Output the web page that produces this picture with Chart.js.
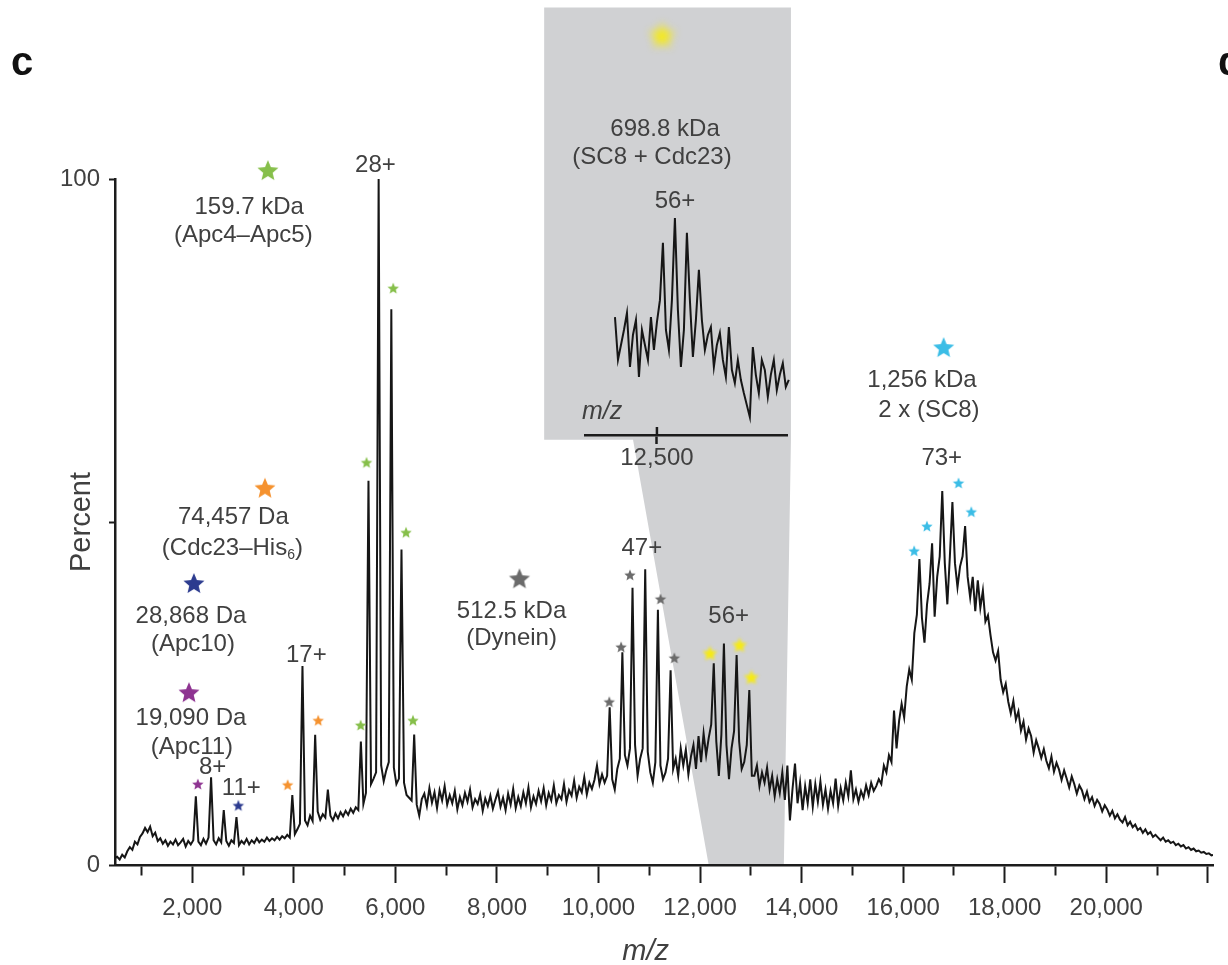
<!DOCTYPE html>
<html>
<head>
<meta charset="utf-8">
<title>Native MS of APC/C subcomplexes</title>
<script src="https://cdn.jsdelivr.net/npm/chart.js@4.4.1/dist/chart.umd.min.js"></script>
<style>
  html, body { margin: 0; padding: 0; background: #fff; }
  #wrap { position: relative; width: 1228px; height: 965px; overflow: hidden; background: #fff; }
  #main { position: absolute; left: 0; top: 0; }
  #inset { position: absolute; left: 550px; top: 0; }
</style>
</head>
<body>
<div id="wrap">
  <canvas id="main" width="1228" height="965"></canvas>
  <canvas id="inset" width="260" height="480"></canvas>
</div>
<script>
// ---- spectrum: relative intensity (%) sampled every 50 m/z from 470 ----
var mzStart = 470;
var mzStep = 50;
var spectrumPct = [
  1.0, 1.2, 0.8, 1.5, 1.1, 2.0, 2.6, 2.2, 3.4, 3.0,
  4.1, 4.6, 5.4, 4.8, 5.6, 4.2, 4.7, 3.5, 3.9, 3.1,
  3.6, 2.8, 3.4, 3.0, 3.7, 2.9, 3.3, 3.8, 2.7, 3.5,
  3.0, 3.6, 10.0, 3.4, 2.9, 3.8, 3.1, 4.0, 12.8, 3.6,
  3.0, 3.9, 3.3, 8.0, 3.5, 2.8, 3.6, 3.2, 7.0, 2.9,
  3.5, 3.1, 3.8, 3.0, 3.6, 3.2, 3.9, 3.3, 3.7, 3.4,
  4.0, 3.5, 3.9, 3.6, 4.1, 3.7, 4.2, 3.9, 4.4, 4.0,
  10.2, 4.5, 5.2, 6.0, 29.0, 6.5, 5.8, 7.2, 6.4, 19.0,
  7.8, 6.6, 7.4, 6.9, 11.0, 7.2, 6.5, 7.5, 6.8, 7.7,
  7.1, 7.9, 7.3, 8.2, 7.6, 8.4, 8.0, 18.0, 8.9, 10.5,
  56.0, 11.8, 12.6, 13.5, 100, 14.5, 12.2, 13.8, 15.0, 81.0,
  14.2, 11.8, 12.6, 46.0, 12.0, 10.2, 9.8, 9.4, 19.0, 8.8,
  7.2, 9.6, 10.4, 8.6, 11.2, 9.1, 10.6, 8.3, 10.9, 9.4,
  11.5, 8.8, 10.2, 9.0, 10.8, 8.1, 9.9, 8.7, 10.5, 9.2,
  11.0, 8.4, 9.6, 8.9, 10.3, 7.9, 9.7, 8.6, 10.1, 8.2,
  9.5, 10.7, 8.5, 9.8, 8.0, 10.4, 8.8, 11.1, 8.3, 9.9,
  8.6, 10.6, 9.0, 11.3, 8.4, 10.0, 8.9, 10.8, 9.3, 11.2,
  8.7, 10.5, 9.4, 11.6, 9.0, 10.2, 9.6, 11.8, 9.2, 10.9,
  10.1, 12.3, 9.8, 11.4, 10.6, 12.8, 10.3, 12.0, 11.1, 12.4,
  14.5, 11.8, 13.2, 12.0, 13.0, 23.0, 12.5, 11.0, 14.0, 15.5,
  31.0, 16.0, 14.5, 17.0, 40.4, 17.5, 13.0, 15.5, 17.0, 43.1,
  16.5, 13.5, 12.0, 15.0, 37.2, 14.5, 12.5, 13.5, 15.5, 28.4,
  14.0, 15.5, 13.0, 17.0, 14.5, 16.8, 13.2, 15.8, 17.5, 14.0,
  18.8, 15.0, 19.2, 16.0, 18.5, 20.5, 29.4, 18.0, 13.0, 19.0,
  32.3, 17.5, 12.5, 17.0, 19.5, 30.6, 18.0, 14.0, 15.0, 17.5,
  25.5, 13.0, 13.0, 14.5, 11.5, 13.5, 12.0, 14.2, 11.0, 13.0,
  10.0, 12.5, 10.5, 13.5, 9.5, 14.5, 6.5, 11.0, 14.8, 9.0,
  12.0, 8.0, 11.5, 9.0, 12.5, 8.5, 11.8, 9.2, 12.2, 8.8,
  11.0, 8.2, 10.8, 9.0, 12.6, 8.6, 11.2, 9.4, 12.0, 10.0,
  13.8, 9.6, 11.0, 9.2, 10.8, 9.8, 11.6, 10.2, 12.0, 10.8,
  11.5, 12.5, 11.8, 14.5, 13.5, 16.0, 15.0, 22.5, 17.0, 21.0,
  23.5, 21.5, 26.0, 28.5, 27.0, 33.8, 36.5, 44.6, 36.0, 32.4,
  38.0, 41.0, 46.9, 36.2, 42.0, 45.0, 54.5, 44.0, 38.0, 45.0,
  52.9, 44.0, 40.5, 43.5, 45.0, 49.4, 42.0, 39.0, 42.0, 37.0,
  41.5, 37.5, 40.0, 35.5, 36.4, 33.5, 31.0, 29.8, 31.2, 27.0,
  25.2, 26.4, 23.8, 22.1, 23.9, 21.2, 22.4, 19.6, 20.9, 18.3,
  19.9, 18.8, 16.4, 18.2, 17.0, 15.6, 16.9, 15.2, 14.1, 15.8,
  13.6, 14.9, 13.9, 12.4, 13.8, 12.6, 11.3, 12.9, 11.8, 10.4,
  11.6, 10.9, 9.6, 10.7, 9.2, 9.9, 8.6, 9.5, 8.9, 7.8,
  8.7, 8.1, 7.2, 7.9, 6.8, 7.4, 6.6, 6.2, 7.0, 5.8,
  6.3, 5.5, 5.9, 5.1, 5.4, 4.7, 5.2, 4.5, 4.8, 4.1,
  4.4, 4.0, 3.6, 4.0, 3.4, 3.6, 3.2, 3.4, 2.9, 3.1,
  2.7, 2.9, 2.4, 2.6, 2.2, 2.4, 2.0, 2.1, 1.8, 1.9,
  1.6, 1.7, 1.4, 1.5
];
var spectrumMz = spectrumPct.map(function (v, i) { return mzStart + i * mzStep; });

// ---- axes ----
var xMin = 478, xMax = 22102;
var xTickValues = [1000, 2000, 3000, 4000, 5000, 6000, 7000, 8000, 9000, 10000, 11000,
                   12000, 13000, 14000, 15000, 16000, 17000, 18000, 19000, 20000, 21000, 22000];
var xLabelValues = [2000, 4000, 6000, 8000, 10000, 12000, 14000, 16000, 18000, 20000];
var yTickValues = [0, 50, 100];
var yLabelValues = [0, 100];

// ---- assigned charge-state series (m/z, %) ----
var starsApc45 = [[5316, 20.4], [5432, 58.7], [5957, 84.1], [6210, 48.5], [6346, 21.1]];
var starsCdc23 = [[3878, 11.7], [4480, 21.1]];
var starsApc10 = [[2907, 8.7]];
var starsApc11 = [[2110, 11.8]];
var starsDynein = [[10212, 23.8], [10445, 31.8], [10620, 42.3], [11222, 38.8], [11494, 30.2]];
var starsSc8Cdc23 = [[12194, 30.9], [12777, 32.1], [13010, 27.4]];
var starsSc8Dimer = [[16216, 45.8], [16468, 49.4], [17090, 55.7], [17342, 51.5]];

// key star for each complex, next to its mass label
var keyNames = ['apc45', 'cdc23', 'apc10', 'apc11', 'dynein', 'sc8dimer'];
var keyMz = [3489, 3431, 2032, 1935, 8444, 16798];
var keyPct = [101.3, 55.0, 41.1, 25.2, 41.8, 75.5];

// ---- annotations ----
var noteText = ['28+', '159.7 kDa', '(Apc4\u2013Apc5)', '74,457 Da', '(Cdc23\u2013His_6)',
                '28,868 Da', '(Apc10)', '17+', '19,090 Da', '(Apc11)', '8+', '11+',
                '512.5 kDa', '(Dynein)', '47+', '56+', '1,256 kDa', '2 x (SC8)', '73+'];
var noteMz = [5607, 3120, 3004, 2809, 2790, 1974, 2013, 4247, 1974, 1993, 2401, 2965,
              8288, 8288, 10853, 12563, 16371, 16507, 16760];
var notePct = [102.0, 95.9, 91.8, 50.7, 46.2, 36.2, 32.1, 30.6, 21.4, 17.2, 14.3, 11.1,
               36.9, 33.1, 46.1, 36.3, 70.7, 66.3, 59.3];

// ---- zoomed inset of the 56+ region ----
var insetMzStart = 11800;
var insetMzStep = 50;
var insetIntensity = [
  28.4, 18.1, 21.7, 25.3, 29.4, 16.4, 24.1, 27.7, 14.0, 25.3,
  21.7, 18.1, 28.4, 20.5, 27.2, 32.5, 46.3, 25.3, 20.5, 32.5,
  52.3, 30.1, 16.4, 25.3, 48.7, 32.5, 18.8, 27.7, 39.8, 27.7,
  20.5, 24.1, 26.0, 16.4, 21.7, 24.6, 18.1, 14.0, 26.0, 15.7,
  12.5, 18.1, 13.3, 10.1, 7.2, 4.3, 21.2, 14.5, 10.1, 18.1,
  15.7, 9.2, 14.5, 18.1, 10.8, 14.5, 17.3, 11.6, 13.3, 14.9,
  12.5
];
var insetMz = insetIntensity.map(function (v, i) { return insetMzStart + i * insetMzStep; });
var insetMin = 11300, insetMax = 14670;
var insetTickValues = [12500];
var insetNoteText = ['698.8 kDa', '(SC8 + Cdc23)', '56+'];
var insetNoteMz = [12635, 12418, 12802];
var insetNoteVal = [73.7, 67.0, 56.4];
var insetKeyStar = [12585, 96.4];

// gray panel + wedge pointing at the zoomed m/z window
var panelMz = [8930, 13790];
var panelPct = [62, 125];
var wedgeTopMz = 10680;
var zoomWindowMz = [12170, 13650];

// ---- styles ----
var fontFamily = '"Liberation Sans", Arial, Helvetica, sans-serif';
var textColor = '#404040';
var axisColor = '#1c1c1c';
var traceColor = '#161616';
var panelColor = '#d0d1d3';
var colors = {
  apc45: '#86bf4a', cdc23: '#f5922f', apc10: '#2c3b8f', apc11: '#8e3391',
  dynein: '#6b6b6b', sc8cdc23: '#f6ea14', sc8dimer: '#3bbde6'
};

function starImage(color, size, blur) {
  var pad = Math.ceil(blur * 3) + 2;
  var c = document.createElement('canvas');
  c.width = c.height = size + pad * 2;
  var g = c.getContext('2d');
  if (blur) g.filter = 'blur(' + blur + 'px)';
  var cx = c.width / 2, cy = c.height / 2 + size * 0.05, R = size / 2, r = R * 0.45;
  g.beginPath();
  for (var k = 0; k < 10; k++) {
    var a = -Math.PI / 2 + k * Math.PI / 5;
    var rad = k % 2 ? r : R;
    g.lineTo(cx + rad * Math.cos(a), cy + rad * Math.sin(a));
  }
  g.closePath();
  g.fillStyle = color;
  g.fill();
  return c;
}

function starSet(points, img, radius) {
  return {
    type: 'scatter',
    order: 0,
    clip: false,
    data: points.map(function (p) { return { x: p[0], y: p[1] }; }),
    pointStyle: img,
    pointRadius: radius,
    pointHoverRadius: radius,
    pointBorderWidth: 0,
    showLine: false
  };
}

// draws a label centred on (x, y); "_n" marks a one-character subscript
function drawNote(ctx, text, x, y, size) {
  var parts = text.split('_');
  ctx.font = size + 'px ' + fontFamily;
  if (parts.length === 1) {
    ctx.textAlign = 'center';
    ctx.fillText(text, x, y);
    return;
  }
  var head = parts[0], sub = parts[1].charAt(0), tail = parts[1].slice(1);
  var subSize = Math.round(size * 0.58);
  var w1 = ctx.measureText(head).width;
  var w3 = ctx.measureText(tail).width;
  ctx.font = subSize + 'px ' + fontFamily;
  var w2 = ctx.measureText(sub).width;
  var left = x - (w1 + w2 + w3) / 2;
  ctx.textAlign = 'left';
  ctx.font = size + 'px ' + fontFamily;
  ctx.fillText(head, left, y);
  ctx.font = subSize + 'px ' + fontFamily;
  ctx.fillText(sub, left + w1, y + size * 0.28);
  ctx.font = size + 'px ' + fontFamily;
  ctx.fillText(tail, left + w1 + w2, y);
}

var zoomPanel = {
  id: 'zoomPanel',
  beforeDraw: function (chart) {
    var xs = chart.scales.x, ys = chart.scales.y, ctx = chart.ctx;
    var L = xs.getPixelForValue(panelMz[0]), R = xs.getPixelForValue(panelMz[1]);
    var T = ys.getPixelForValue(panelPct[1]), B = ys.getPixelForValue(panelPct[0]);
    var base = ys.getPixelForValue(0);
    ctx.save();
    ctx.fillStyle = panelColor;
    ctx.beginPath();
    ctx.moveTo(L, T);
    ctx.lineTo(R, T);
    ctx.lineTo(R, B);
    ctx.lineTo(xs.getPixelForValue(zoomWindowMz[1]), base);
    ctx.lineTo(xs.getPixelForValue(zoomWindowMz[0]), base);
    ctx.lineTo(xs.getPixelForValue(wedgeTopMz), B);
    ctx.lineTo(L, B);
    ctx.closePath();
    ctx.fill();
    ctx.restore();
  }
};

var notes = {
  id: 'notes',
  afterDatasetsDraw: function (chart) {
    var xs = chart.scales.x, ys = chart.scales.y, ctx = chart.ctx;
    ctx.save();
    ctx.fillStyle = textColor;
    ctx.textBaseline = 'middle';
    for (var k = 0; k < noteText.length; k++) {
      drawNote(ctx, noteText[k], xs.getPixelForValue(noteMz[k]), ys.getPixelForValue(notePct[k]), 24);
    }
    // x axis title
    ctx.font = 'italic 29px ' + fontFamily;
    ctx.textAlign = 'center';
    ctx.fillText('m/z', xs.getPixelForValue(10930), ys.getPixelForValue(0) + 87);
    // panel letters
    ctx.fillStyle = '#111';
    ctx.font = 'bold 40px ' + fontFamily;
    ctx.textAlign = 'left';
    ctx.textBaseline = 'alphabetic';
    ctx.fillText('c', 11, 75);
    ctx.fillText('d', 1218, 75);
    ctx.restore();
  }
};

var datasets = [{
  type: 'line',
  order: 10,
  data: spectrumMz.map(function (m, i) { return { x: m, y: spectrumPct[i] }; }),
  borderColor: traceColor,
  borderWidth: 2,
  pointRadius: 0,
  tension: 0
}];
var smallBlur = 0.5;
datasets.push(starSet(starsApc45, starImage(colors.apc45, 12, smallBlur), 8));
datasets.push(starSet(starsCdc23, starImage(colors.cdc23, 12, smallBlur), 8));
datasets.push(starSet(starsApc10, starImage(colors.apc10, 12, smallBlur), 8));
datasets.push(starSet(starsApc11, starImage(colors.apc11, 12, smallBlur), 8));
datasets.push(starSet(starsDynein, starImage(colors.dynein, 12, smallBlur), 8));
datasets.push(starSet(starsSc8Cdc23, starImage(colors.sc8cdc23, 16, 1.6), 9));
datasets.push(starSet(starsSc8Dimer, starImage(colors.sc8dimer, 12, smallBlur), 8));
keyNames.forEach(function (name, k) {
  datasets.push(starSet([[keyMz[k], keyPct[k]]], starImage(colors[name], 22, 0.6), 15));
});

var mainChart = new Chart(document.getElementById('main'), {
  type: 'line',
  data: { datasets: datasets },
  options: {
    responsive: false,
    animation: false,
    events: [],
    layout: { padding: { top: 179, left: 0, right: 0, bottom: 0 } },
    plugins: { legend: { display: false }, tooltip: { enabled: false } },
    scales: {
      x: {
        type: 'linear',
        min: xMin,
        max: xMax,
        afterBuildTicks: function (s) { s.ticks = xTickValues.map(function (v) { return { value: v }; }); },
        afterFit: function (s) { s.height = 100; },
        ticks: {
          autoSkip: false,
          maxRotation: 0,
          padding: 11,
          color: textColor,
          font: { family: fontFamily, size: 24 },
          callback: function (v) { return xLabelValues.indexOf(v) >= 0 ? v.toLocaleString('en-US') : ''; }
        },
        grid: {
          drawOnChartArea: false,
          tickLength: 18,
          tickWidth: 2,
          tickColor: axisColor,
          tickBorderDash: function (c) { return (c.tick && c.tick.value % 2000 !== 0) ? [9, 40] : []; }
        },
        border: { color: axisColor, width: 2.5 }
      },
      y: {
        min: 0,
        max: 100,
        afterBuildTicks: function (s) { s.ticks = yTickValues.map(function (v) { return { value: v }; }); },
        afterFit: function (s) { s.width = 115; },
        ticks: {
          padding: 9,
          color: textColor,
          font: { family: fontFamily, size: 24 },
          callback: function (v) { return yLabelValues.indexOf(v) >= 0 ? String(v) : ''; }
        },
        grid: { drawOnChartArea: false, tickLength: 6, tickWidth: 2, tickColor: axisColor },
        border: { color: axisColor, width: 2.5 },
        title: {
          display: true,
          text: 'Percent',
          color: textColor,
          font: { family: fontFamily, size: 29 },
          padding: { top: 65, bottom: 0 }
        }
      }
    }
  },
  plugins: [zoomPanel, notes]
});

var insetNotes = {
  id: 'insetNotes',
  afterDatasetsDraw: function (chart) {
    var xs = chart.scales.x, ys = chart.scales.y, ctx = chart.ctx;
    var axisY = ys.getPixelForValue(0);
    ctx.save();
    // tick crosses the axis line
    ctx.strokeStyle = axisColor;
    ctx.lineWidth = 2.5;
    insetTickValues.forEach(function (v) {
      var px = xs.getPixelForValue(v);
      ctx.beginPath();
      ctx.moveTo(px, axisY - 8);
      ctx.lineTo(px, axisY);
      ctx.stroke();
    });
    ctx.fillStyle = textColor;
    ctx.textBaseline = 'middle';
    for (var k = 0; k < insetNoteText.length; k++) {
      drawNote(ctx, insetNoteText[k], xs.getPixelForValue(insetNoteMz[k]), ys.getPixelForValue(insetNoteVal[k]), 24);
    }
    ctx.font = 'italic 25px ' + fontFamily;
    ctx.textAlign = 'left';
    ctx.fillText('m/z', xs.getPixelForValue(11250), ys.getPixelForValue(5.5));
    ctx.restore();
  }
};

var insetChart = new Chart(document.getElementById('inset'), {
  type: 'line',
  data: {
    datasets: [{
      type: 'line',
      order: 10,
      data: insetMz.map(function (m, i) { return { x: m, y: insetIntensity[i] }; }),
      borderColor: traceColor,
      borderWidth: 2,
      pointRadius: 0,
      tension: 0,
      clip: false
    }, {
      type: 'scatter',
      order: 0,
      data: [{ x: insetKeyStar[0], y: insetKeyStar[1] }],
      pointStyle: starImage(colors.sc8cdc23, 28, 4),
      pointRadius: 14,
      pointHoverRadius: 14,
      pointBorderWidth: 0,
      clip: false
    }]
  },
  options: {
    responsive: false,
    animation: false,
    events: [],
    layout: { padding: { top: 20, left: 35, right: 23, bottom: 0 } },
    plugins: { legend: { display: false }, tooltip: { enabled: false } },
    scales: {
      x: {
        type: 'linear',
        min: insetMin,
        max: insetMax,
        afterBuildTicks: function (s) { s.ticks = insetTickValues.map(function (v) { return { value: v }; }); },
        afterFit: function (s) { s.height = 45; },
        ticks: {
          autoSkip: false,
          maxRotation: 0,
          padding: 0,
          color: textColor,
          font: { family: fontFamily, size: 24 },
          callback: function (v) { return v.toLocaleString('en-US'); }
        },
        grid: { drawOnChartArea: false, tickLength: 9, tickWidth: 2.5, tickColor: axisColor },
        border: { color: axisColor, width: 2.5 }
      },
      y: { display: false, min: 0, max: 100 }
    }
  },
  plugins: [insetNotes]
});
</script>
</body>
</html>
